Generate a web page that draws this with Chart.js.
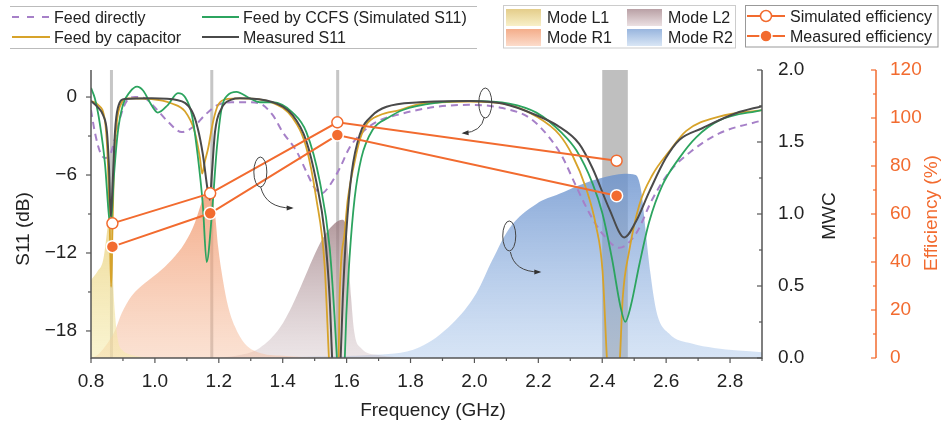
<!DOCTYPE html>
<html lang="en">
<head>
<meta charset="UTF-8">
<title>S11, MWC and efficiency</title>
<script src="https://cdn.jsdelivr.net/npm/chart.js@4"></script>
<style>
  body { margin: 0; background: #fff; }
  .wrap { position: relative; width: 941px; height: 425px; }
  canvas, #legend { position: absolute; left: 0; top: 0; }
</style>
</head>
<body>
<div class="wrap">
  <canvas id="s11Chart" width="941" height="425"></canvas>
  <svg id="legend" width="941" height="52">
    <defs>
      <linearGradient id="gL1" x1="0" y1="0" x2="0" y2="1"><stop offset="0" stop-color="#e4cd8a"/><stop offset="1" stop-color="#f8f0c8"/></linearGradient>
      <linearGradient id="gR1" x1="0" y1="0" x2="0" y2="1"><stop offset="0" stop-color="#f4ad8a"/><stop offset="1" stop-color="#fcdccb"/></linearGradient>
      <linearGradient id="gL2" x1="0" y1="0" x2="0" y2="1"><stop offset="0" stop-color="#b9a0a5"/><stop offset="1" stop-color="#ebe0e2"/></linearGradient>
      <linearGradient id="gR2" x1="0" y1="0" x2="0" y2="1"><stop offset="0" stop-color="#98b5de"/><stop offset="1" stop-color="#d9e6f5"/></linearGradient>
    </defs>
    <g font-family="'Liberation Sans', Arial, sans-serif" font-size="16" fill="#222" dominant-baseline="central">
      <line x1="10" y1="6.5" x2="477" y2="6.5" stroke="#bbb"/>
      <line x1="10" y1="48.5" x2="477" y2="48.5" stroke="#bbb"/>
      <line x1="12" y1="17" x2="50" y2="17" stroke="#a680c8" stroke-width="2" stroke-dasharray="7 8"/>
      <text x="54" y="17">Feed directly</text>
      <line x1="12" y1="37" x2="50" y2="37" stroke="#d7a32a" stroke-width="2"/>
      <text x="54" y="37">Feed by capacitor</text>
      <line x1="202" y1="17" x2="239" y2="17" stroke="#2ca45f" stroke-width="2"/>
      <text x="243" y="17">Feed by CCFS (Simulated S11)</text>
      <line x1="202" y1="37" x2="239" y2="37" stroke="#4a4a4a" stroke-width="2"/>
      <text x="243" y="37">Measured S11</text>

      <rect x="503.5" y="5.5" width="232" height="42.5" fill="none" stroke="#ccc"/>
      <rect x="506" y="9" width="35" height="17" fill="url(#gL1)"/>
      <text x="547" y="17">Mode L1</text>
      <rect x="506" y="29" width="35" height="17" fill="url(#gR1)"/>
      <text x="547" y="37">Mode R1</text>
      <rect x="627" y="9" width="35" height="17" fill="url(#gL2)"/>
      <text x="668" y="17">Mode L2</text>
      <rect x="627" y="29" width="35" height="17" fill="url(#gR2)"/>
      <text x="668" y="37">Mode R2</text>

      <rect x="745.5" y="5.5" width="192.5" height="41.5" fill="none" stroke="#999"/>
      <line x1="747" y1="16" x2="785" y2="16" stroke="#f26b2f" stroke-width="2"/>
      <circle cx="766" cy="16" r="5.5" fill="#fff" stroke="#f26b2f" stroke-width="1.5"/>
      <text x="790" y="16">Simulated efficiency</text>
      <line x1="747" y1="36" x2="785" y2="36" stroke="#f26b2f" stroke-width="2"/>
      <circle cx="766" cy="36" r="6" fill="#f26b2f" stroke="#fff" stroke-width="1.5"/>
      <text x="790" y="36">Measured efficiency</text>
    </g>
  </svg>
</div>

<script>
// S11 curves: frequency (GHz) and S11 (dB)
const directFreq = [0.800, 0.812, 0.828, 0.844, 0.859, 0.875, 0.891, 0.912, 0.938, 0.969, 1.000, 1.041, 1.084, 1.125, 1.156, 1.197, 1.241, 1.290, 1.328, 1.369, 1.400, 1.444, 1.475, 1.500, 1.522, 1.547, 1.578, 1.609, 1.650, 1.694, 1.770, 1.881, 1.984, 2.088, 2.172, 2.234, 2.275, 2.319, 2.359, 2.400, 2.453, 2.506, 2.556, 2.609, 2.672, 2.766, 2.900];
const directS11  = [-1.0, -2.7, -4.2, -4.7, -4.5, -3.2, -1.6, -0.3, 0.0, -0.1, -0.8, -1.9, -2.7, -2.2, -1.4, -0.6, -0.4, -0.4, -0.5, -1.4, -2.7, -4.2, -5.8, -7.0, -7.4, -6.8, -5.5, -3.9, -2.7, -1.9, -1.3, -0.75, -0.6, -0.85, -1.6, -3.1, -4.6, -6.9, -8.9, -10.5, -11.6, -10.5, -7.9, -5.8, -4.3, -2.8, -1.8];

const capFreq = [0.800, 0.822, 0.844, 0.853, 0.859, 0.863, 0.867, 0.872, 0.881, 0.897, 0.916, 0.990, 1.053, 1.094, 1.125, 1.141, 1.148, 1.156, 1.167, 1.182, 1.198, 1.228, 1.266, 1.369, 1.431, 1.474, 1.505, 1.531, 1.545, 1.560, 1.575, 1.578, 1.594, 1.604, 1.625, 1.640, 1.661, 1.703, 1.766, 1.828, 1.984, 2.109, 2.194, 2.266, 2.307, 2.349, 2.380, 2.401, 2.415, 2.435, 2.455, 2.464, 2.484, 2.516, 2.557, 2.609, 2.663, 2.766, 2.900];
const capS11  = [-0.3, -0.6, -1.9, -5.2, -10.4, -14.6, -10.4, -5.2, -1.9, -0.4, -0.1, -0.15, -0.5, -1.1, -2.7, -4.7, -5.9, -5.0, -3.9, -1.9, -0.6, -0.15, -0.1, -0.45, -1.6, -3.9, -7.8, -12.9, -20.3, -28, -20.3, -15.5, -10.4, -7.8, -5.0, -3.4, -2.15, -1.4, -1.0, -0.55, -0.35, -0.6, -1.5, -2.9, -4.5, -7.0, -9.85, -13.4, -20.3, -28, -20.3, -15.5, -11.9, -8.3, -6.0, -4.2, -2.6, -1.5, -1.0];

const ccfsFreq = [0.800, 0.812, 0.828, 0.844, 0.856, 0.862, 0.872, 0.884, 0.900, 0.922, 0.944, 0.963, 0.984, 1.009, 1.041, 1.072, 1.094, 1.116, 1.134, 1.150, 1.162, 1.178, 1.194, 1.209, 1.228, 1.255, 1.297, 1.328, 1.369, 1.431, 1.474, 1.516, 1.547, 1.562, 1.570, 1.582, 1.594, 1.599, 1.609, 1.625, 1.646, 1.682, 1.730, 1.776, 1.881, 1.984, 2.109, 2.194, 2.275, 2.319, 2.369, 2.400, 2.431, 2.456, 2.472, 2.490, 2.516, 2.547, 2.588, 2.641, 2.694, 2.766, 2.900];
const ccfsS11  = [0.7, -0.1, -2.1, -5.2, -9.1, -9.8, -6.0, -2.7, -0.6, 0.4, 0.8, 0.5, -0.4, -1.2, -0.6, 0.3, 0.0, -1.4, -4.5, -8.3, -12.7, -9.1, -3.9, -0.85, 0.15, 0.4, -0.1, -0.4, -0.4, -1.2, -2.7, -6.5, -11.6, -16.8, -20.3, -26, -20.3, -16.8, -12.4, -7.8, -4.7, -2.5, -1.6, -1.0, -0.45, -0.3, -0.5, -1.2, -2.8, -4.1, -6.6, -8.9, -12.5, -16.0, -17.3, -16.0, -12.9, -9.6, -6.8, -4.7, -3.1, -1.8, -1.0];

const measFreq = [0.800, 0.822, 0.838, 0.850, 0.856, 0.862, 0.868, 0.875, 0.884, 0.906, 0.990, 1.072, 1.116, 1.134, 1.150, 1.166, 1.172, 1.178, 1.188, 1.209, 1.240, 1.266, 1.369, 1.431, 1.474, 1.505, 1.531, 1.547, 1.555, 1.568, 1.581, 1.588, 1.599, 1.616, 1.641, 1.681, 1.725, 1.828, 1.984, 2.088, 2.194, 2.260, 2.328, 2.370, 2.422, 2.469, 2.505, 2.547, 2.599, 2.641, 2.713, 2.818, 2.900];
const measS11  = [-0.3, -0.8, -1.4, -2.7, -5.2, -9.2, -6.5, -2.7, -0.85, -0.15, -0.1, -0.25, -1.1, -2.4, -4.4, -7.3, -7.9, -6.0, -2.7, -0.85, -0.2, -0.1, -0.4, -1.4, -3.4, -6.5, -10.4, -15.5, -20.3, -26, -20.3, -15.5, -10.4, -5.8, -2.9, -1.4, -0.75, -0.4, -0.3, -0.5, -1.4, -2.2, -3.6, -5.5, -8.6, -10.8, -9.6, -7.3, -4.7, -3.3, -2.4, -1.25, -0.7];

// MWC of the four modes
const l1Freq = [0.800, 0.820, 0.838, 0.854, 0.860, 0.864, 0.869, 0.875, 0.884, 0.900, 0.916, 0.950, 1.000];
const l1Mwc  = [0.54, 0.60, 0.68, 0.94, 1.02, 1.03, 0.55, 0.31, 0.125, 0.05, 0.03, 0.01, 0.0];
const r1Freq = [0.800, 0.820, 0.844, 0.875, 0.896, 0.927, 0.969, 1.009, 1.052, 1.094, 1.125, 1.146, 1.161, 1.169, 1.188, 1.198, 1.213, 1.229, 1.250, 1.281, 1.322, 1.400, 1.550];
const r1Mwc  = [0.0, 0.02, 0.08, 0.19, 0.31, 0.43, 0.52, 0.59, 0.68, 0.80, 0.94, 1.08, 1.17, 1.19, 1.00, 0.77, 0.54, 0.36, 0.22, 0.10, 0.04, 0.015, 0.0];
const l2Freq = [1.200, 1.266, 1.328, 1.391, 1.431, 1.463, 1.494, 1.525, 1.556, 1.585, 1.598, 1.607, 1.614, 1.624, 1.645, 1.700, 1.800];
const l2Mwc  = [0.0, 0.02, 0.07, 0.21, 0.37, 0.53, 0.69, 0.83, 0.92, 0.96, 0.92, 0.65, 0.42, 0.18, 0.07, 0.02, 0.0];
const r2Freq = [1.300, 1.500, 1.672, 1.828, 1.931, 2.006, 2.056, 2.109, 2.194, 2.266, 2.328, 2.397, 2.470, 2.505, 2.522, 2.535, 2.550, 2.570, 2.609, 2.680, 2.750, 2.900];
const r2Mwc  = [0.0, 0.01, 0.02, 0.075, 0.24, 0.45, 0.68, 0.90, 1.07, 1.14, 1.20, 1.25, 1.28, 1.27, 1.16, 0.90, 0.60, 0.32, 0.17, 0.10, 0.07, 0.04];

// efficiency (%)
const effFreq = [0.867, 1.173, 1.571, 2.445];
const simEff  = [56.1, 68.6, 98.2, 82.2];
const measEff = [46.4, 60.3, 92.9, 67.6];

// resonance markers and the 2.4 GHz band
const resonanceLines = [0.864, 1.178, 1.572];
const wlanBand = [2.40, 2.48];

// axis ticks
const freqTicks = [0.8, 1.0, 1.2, 1.4, 1.6, 1.8, 2.0, 2.2, 2.4, 2.6, 2.8];
const freqTickLabels = ['0.8', '1.0', '1.2', '1.4', '1.6', '1.8', '2.0', '2.2', '2.4', '2.6', '2.8'];
const s11Ticks = [0, -6, -12, -18];
const s11TickLabels = ['0', '\u22126', '\u221212', '\u221218'];
const mwcTicks = [0, 0.5, 1.0, 1.5, 2.0];
const mwcTickLabels = ['0.0', '0.5', '1.0', '1.5', '2.0'];
const effTicks = [0, 20, 40, 60, 80, 100, 120];
const effTickLabels = ['0', '20', '40', '60', '80', '100', '120'];

// little loops with arrows (data units)
const loops = [
  { at: [1.330, -5.77], from: [1.331, -6.92], via: [1.347, -8.54], to: [1.428, -8.54] },
  { at: [2.034, -0.46], from: [2.031, -1.54], via: [2.022, -2.69], to: [1.966, -2.77] },
  { at: [2.109, -10.69], from: [2.1125, -11.92], via: [2.125, -13.46], to: [2.203, -13.46] }
];

const FONT = "'Liberation Sans', Arial, sans-serif";
const ORANGE = '#f26b2f';
const INK = '#222';

const pts = (xs, ys) => xs.map((x, i) => ({ x: x, y: ys[i] }));

function fillGradient(top, bottom, values) {
  return function(ctx) {
    const chart = ctx.chart;
    const area = chart.chartArea;
    if (!area) return bottom;
    const yTop = chart.scales.mwc.getPixelForValue(Math.max(...values));
    const g = chart.ctx.createLinearGradient(0, yTop, 0, area.bottom);
    g.addColorStop(0, top);
    g.addColorStop(1, bottom);
    return g;
  };
}

function modeSet(label, xs, ys, top, bottom) {
  return {
    label: label, data: pts(xs, ys), yAxisID: 'mwc',
    fill: 'origin', backgroundColor: fillGradient(top, bottom, ys),
    borderColor: 'rgba(0,0,0,0)', borderWidth: 0, pointRadius: 0,
    cubicInterpolationMode: 'monotone', order: 10
  };
}

function s11Set(label, xs, ys, color, width, dash) {
  return {
    label: label, data: pts(xs, ys), yAxisID: 'y',
    borderColor: color, borderWidth: width, borderDash: dash || [],
    pointRadius: 0, fill: false, cubicInterpolationMode: 'monotone', order: 5
  };
}

const guides = {
  id: 'guides',
  beforeDatasetsDraw(chart) {
    const { ctx, chartArea: a, scales: { x } } = chart;
    ctx.save();
    const b0 = x.getPixelForValue(wlanBand[0]);
    const b1 = x.getPixelForValue(wlanBand[1]);
    ctx.fillStyle = '#bfbfbf';
    ctx.fillRect(b0, a.top, b1 - b0, a.bottom - a.top);
    ctx.strokeStyle = '#c6c6c6';
    ctx.lineWidth = 3;
    resonanceLines.forEach(f => {
      const px = x.getPixelForValue(f);
      ctx.beginPath(); ctx.moveTo(px, a.top); ctx.lineTo(px, a.bottom); ctx.stroke();
    });
    ctx.restore();
  }
};

const loopMarks = {
  id: 'loopMarks',
  afterDatasetsDraw(chart) {
    const { ctx, scales: { x, y } } = chart;
    const P = p => [x.getPixelForValue(p[0]), y.getPixelForValue(p[1])];
    ctx.save();
    loops.forEach(l => {
      const c = P(l.at), s = P(l.from), v = P(l.via), e = P(l.to);
      ctx.strokeStyle = '#444';
      ctx.lineWidth = 1;
      ctx.beginPath();
      ctx.ellipse(c[0], c[1], 6.5, 15, 0, 0, Math.PI * 2);
      ctx.stroke();
      ctx.beginPath();
      ctx.moveTo(s[0], s[1]);
      ctx.quadraticCurveTo(v[0], v[1], e[0], e[1]);
      ctx.stroke();
      const ang = Math.atan2(e[1] - v[1], e[0] - v[0]);
      ctx.fillStyle = '#333';
      ctx.beginPath();
      ctx.moveTo(e[0] + 2 * Math.cos(ang), e[1] + 2 * Math.sin(ang));
      ctx.lineTo(e[0] - 5 * Math.cos(ang) - 2.5 * Math.sin(ang), e[1] - 5 * Math.sin(ang) + 2.5 * Math.cos(ang));
      ctx.lineTo(e[0] - 5 * Math.cos(ang) + 2.5 * Math.sin(ang), e[1] - 5 * Math.sin(ang) - 2.5 * Math.cos(ang));
      ctx.closePath();
      ctx.fill();
    });
    ctx.restore();
  }
};

function minorOf(ticks, lo, hi) {
  const out = [];
  const step = ticks[1] - ticks[0];
  for (let i = -1; i < ticks.length; i++) {
    const m = ticks[0] + (i + 0.5) * step;
    if (m >= Math.min(lo, hi) - 1e-9 && m <= Math.max(lo, hi) + 1e-9) out.push(m);
  }
  return out;
}

const frame = {
  id: 'frame',
  afterDraw(chart) {
    const { ctx, chartArea: a, scales: { x, y, mwc, eff } } = chart;
    const seg = (x1, y1, x2, y2) => { ctx.beginPath(); ctx.moveTo(x1, y1); ctx.lineTo(x2, y2); ctx.stroke(); };
    ctx.save();
    ctx.strokeStyle = '#555';
    ctx.lineWidth = 1.5;
    seg(a.left, a.top, a.left, a.bottom + 0.75);
    seg(a.left, a.bottom, a.right, a.bottom);
    seg(a.right, a.top, a.right, a.bottom + 0.75);
    ctx.lineWidth = 1.2;
    freqTicks.forEach(v => { const p = x.getPixelForValue(v); seg(p, a.bottom, p, a.bottom + 5); });
    minorOf(freqTicks, 0.8, 2.9).forEach(v => { const p = x.getPixelForValue(v); seg(p, a.bottom, p, a.bottom + 3); });
    s11Ticks.forEach(v => { const p = y.getPixelForValue(v); seg(a.left - 5, p, a.left, p); });
    minorOf(s11Ticks, 2.08, -20.08).forEach(v => { const p = y.getPixelForValue(v); seg(a.left - 3, p, a.left, p); });
    mwcTicks.forEach(v => { const p = mwc.getPixelForValue(v); seg(a.right - 5, p, a.right, p); });
    minorOf(mwcTicks, 0, 2).forEach(v => { const p = mwc.getPixelForValue(v); seg(a.right - 3, p, a.right, p); });
    const ex = eff.left;
    ctx.strokeStyle = ORANGE;
    ctx.lineWidth = 1.5;
    seg(ex, a.top, ex, a.bottom);
    ctx.lineWidth = 1.2;
    effTicks.forEach(v => { const p = eff.getPixelForValue(v); seg(ex - 5, p, ex, p); });
    minorOf(effTicks, 0, 120).forEach(v => { const p = eff.getPixelForValue(v); seg(ex - 3, p, ex, p); });

    ctx.font = '19px ' + FONT;
    ctx.fillStyle = INK;
    ctx.textAlign = 'center';
    ctx.textBaseline = 'alphabetic';
    ctx.fillText('Frequency (GHz)', 433, 416);
    const vText = (str, cx, cy, color) => {
      ctx.save();
      ctx.translate(cx, cy);
      ctx.rotate(-Math.PI / 2);
      ctx.textAlign = 'center';
      ctx.textBaseline = 'middle';
      ctx.fillStyle = color;
      ctx.fillText(str, 0, 0);
      ctx.restore();
    };
    vText('S11 (dB)', 24, 229, INK);
    vText('MWC', 830, 216, INK);
    vText('Efficiency (%)', 932, 213, ORANGE);
    ctx.restore();
  }
};

const tickFont = { family: FONT, size: 19 };
const noGrid = { display: false, drawTicks: false };

new Chart(document.getElementById('s11Chart'), {
  type: 'line',
  data: {
    datasets: [
      {
        label: 'Simulated efficiency', data: pts(effFreq, simEff), yAxisID: 'eff',
        borderColor: ORANGE, borderWidth: 2, tension: 0, fill: false,
        pointRadius: 5.5, pointBackgroundColor: '#fff', pointBorderColor: ORANGE, pointBorderWidth: 1.5, order: 1
      },
      {
        label: 'Measured efficiency', data: pts(effFreq, measEff), yAxisID: 'eff',
        borderColor: ORANGE, borderWidth: 2, tension: 0, fill: false,
        pointRadius: 6, pointBackgroundColor: ORANGE, pointBorderColor: '#fff', pointBorderWidth: 1.5, order: 1
      },
      s11Set('Measured S11', measFreq, measS11, '#4a4a4a', 2),
      s11Set('Feed by CCFS (Simulated S11)', ccfsFreq, ccfsS11, '#2ca45f', 1.8),
      s11Set('Feed by capacitor', capFreq, capS11, '#d7a32a', 1.8),
      s11Set('Feed directly', directFreq, directS11, '#a680c8', 2, [7, 5]),
      modeSet('Mode L1', l1Freq, l1Mwc, 'rgba(232,205,120,0.8)', 'rgba(245,235,170,0.55)'),
      modeSet('Mode R1', r1Freq, r1Mwc, 'rgba(240,145,100,0.78)', 'rgba(245,185,150,0.42)'),
      modeSet('Mode L2', l2Freq, l2Mwc, 'rgba(150,115,120,0.72)', 'rgba(200,180,185,0.35)'),
      modeSet('Mode R2', r2Freq, r2Mwc, 'rgba(105,145,205,0.8)', 'rgba(150,185,230,0.38)')
    ]
  },
  options: {
    responsive: false,
    animation: false,
    devicePixelRatio: 1,
    events: [],
    layout: { padding: { top: 70, left: 0, right: 0, bottom: 0 } },
    plugins: { legend: { display: false }, tooltip: { enabled: false } },
    scales: {
      x: {
        type: 'linear', min: 0.8, max: 2.9,
        afterBuildTicks: s => { s.ticks = freqTicks.map(v => ({ value: v })); },
        afterFit: s => { s.height = 67; },
        grid: noGrid, border: { display: false },
        ticks: { callback: (v, i) => freqTickLabels[i], font: tickFont, color: INK, padding: 12, maxRotation: 0, autoSkip: false }
      },
      y: {
        position: 'left', min: -20.08, max: 2.08,
        afterBuildTicks: s => { s.ticks = s11Ticks.map(v => ({ value: v })); },
        afterFit: s => { s.width = 91; },
        grid: noGrid, border: { display: false },
        ticks: { callback: (v, i) => s11TickLabels[i], font: tickFont, color: INK, padding: 14 }
      },
      mwc: {
        position: 'right', min: 0, max: 2,
        afterBuildTicks: s => { s.ticks = mwcTicks.map(v => ({ value: v })); },
        afterFit: s => { s.width = 114; },
        grid: noGrid, border: { display: false },
        ticks: { callback: (v, i) => mwcTickLabels[i], font: tickFont, color: INK, padding: 16 }
      },
      eff: {
        position: 'right', min: 0, max: 120,
        afterBuildTicks: s => { s.ticks = effTicks.map(v => ({ value: v })); },
        afterFit: s => { s.width = 65; },
        grid: noGrid, border: { display: false },
        ticks: { callback: (v, i) => effTickLabels[i], font: tickFont, color: ORANGE, padding: 14 }
      }
    }
  },
  plugins: [guides, loopMarks, frame]
});
</script>
</body>
</html>
